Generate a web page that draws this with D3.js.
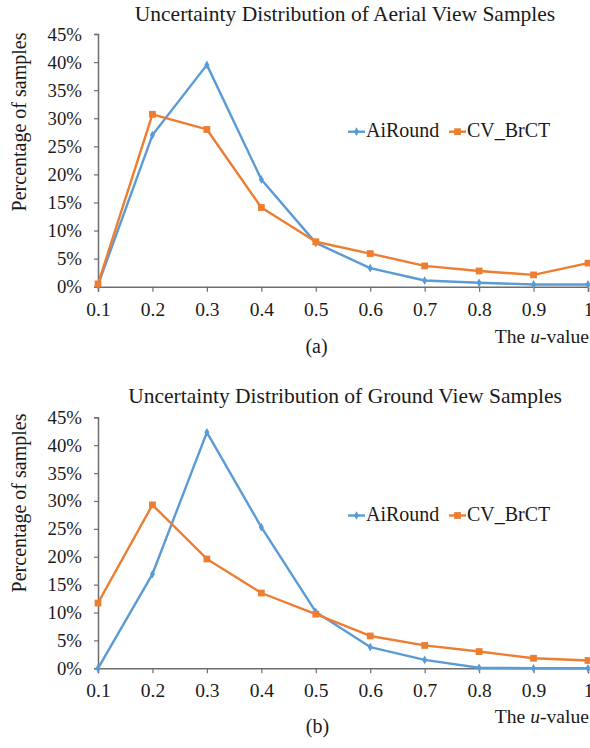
<!DOCTYPE html>
<html>
<head>
<meta charset="utf-8">
<script src="https://cdn.jsdelivr.net/npm/d3@7"></script>
<style>
  html, body { margin: 0; padding: 0; background: #fff; }
  svg { display: block; }
  svg text { font-family: "Liberation Serif", "Times New Roman", serif !important; }
</style>
</head>
<body>
<svg id="chart" width="590" height="748"></svg>
<script>
// u-value categories shared by both panels
const uValues = ["0.1", "0.2", "0.3", "0.4", "0.5", "0.6", "0.7", "0.8", "0.9", "1"];
const yTicks = [0, 0.05, 0.10, 0.15, 0.20, 0.25, 0.30, 0.35, 0.40, 0.45];
const seriesNames = ["AiRound", "CV_BrCT"];

// (a) aerial view samples, fraction of samples per u-value
const aerialAiRound = [0.003, 0.270, 0.395, 0.191, 0.078, 0.033, 0.011, 0.007, 0.004, 0.004];
const aerialCvBrct  = [0.005, 0.307, 0.280, 0.141, 0.080, 0.059, 0.037, 0.028, 0.021, 0.042];

// (b) ground view samples
const groundAiRound = [0.000, 0.169, 0.423, 0.253, 0.101, 0.038, 0.015, 0.001, 0.000, 0.000];
const groundCvBrct  = [0.117, 0.293, 0.196, 0.135, 0.097, 0.058, 0.041, 0.030, 0.018, 0.014];

const colors = { AiRound: "#5B9BD5", CV_BrCT: "#ED7D31" };
const axisColor = "#6e6e6e";
const textColor = "#1a1a1a";

const svg = d3.select("#chart");

function drawPanel(opt) {
  const g = svg.append("g");
  const x = d3.scalePoint().domain(uValues).range([opt.left, opt.right]).padding(0);
  const y = d3.scaleLinear().domain([0, 0.45]).range([opt.bottom, opt.top]);

  // title
  g.append("text")
    .attr("x", opt.titleX).attr("y", opt.titleY)
    .attr("text-anchor", "middle")
    .attr("font-size", 21.5).attr("fill", textColor)
    .text(opt.title);

  // y axis
  const yAxis = g.append("g")
    .attr("transform", `translate(${opt.left},0)`)
    .call(d3.axisLeft(y).tickValues(yTicks).tickFormat(d3.format(".0%")).tickSize(4).tickPadding(12));
  yAxis.attr("font-family", null);
  yAxis.select(".domain").attr("stroke", axisColor).attr("stroke-width", 1.5);
  yAxis.selectAll(".tick line").attr("stroke", axisColor).attr("stroke-width", 1.2);
  yAxis.selectAll(".tick text").attr("font-size", 18.8).attr("fill", textColor);

  // x axis
  const xAxis = g.append("g")
    .attr("transform", `translate(0,${opt.bottom})`)
    .call(d3.axisBottom(x).tickSize(5).tickPadding(10));
  xAxis.attr("font-family", null);
  xAxis.select(".domain").attr("stroke", axisColor).attr("stroke-width", 1.5);
  xAxis.selectAll(".tick line").attr("stroke", axisColor).attr("stroke-width", 1.2);
  xAxis.selectAll(".tick text").attr("font-size", 19.5).attr("fill", textColor);

  // y axis title
  g.append("text")
    .attr("transform", `translate(${opt.yTitleX},${opt.yTitleY}) rotate(-90)`)
    .attr("text-anchor", "middle")
    .attr("font-size", 20).attr("fill", textColor)
    .text("Percentage of samples");

  // x axis title
  const xt = g.append("text")
    .attr("x", opt.right + 1).attr("y", opt.xTitleY)
    .attr("text-anchor", "end")
    .attr("font-size", 19.6).attr("fill", textColor);
  xt.append("tspan").text("The ");
  xt.append("tspan").attr("font-style", "italic").text("u");
  xt.append("tspan").text("-value");

  // panel tag
  g.append("text")
    .attr("x", opt.tagX).attr("y", opt.tagY)
    .attr("text-anchor", "middle")
    .attr("font-size", 20).attr("fill", textColor)
    .text(opt.tag);

  const line = d3.line().x((d, i) => x(uValues[i])).y(d => y(d));

  const series = [
    { name: "AiRound", values: opt.ai },
    { name: "CV_BrCT", values: opt.cv }
  ];

  series.forEach(s => {
    g.append("path")
      .datum(s.values)
      .attr("fill", "none")
      .attr("stroke", colors[s.name])
      .attr("stroke-width", 2.4)
      .attr("stroke-linejoin", "round")
      .attr("d", line);
  });

  // markers: diamonds for AiRound, squares for CV_BrCT
  const diamond = d3.symbol().type(d3.symbolDiamond).size(22);
  const square = d3.symbol().type(d3.symbolSquare).size(46);
  series.forEach(s => {
    g.append("g").selectAll("path")
      .data(s.values)
      .join("path")
      .attr("transform", (d, i) => `translate(${x(uValues[i])},${y(d)})`)
      .attr("d", s.name === "AiRound" ? diamond : square)
      .attr("fill", colors[s.name]);
  });

  // legend
  const leg = g.append("g").attr("transform", `translate(0,${opt.legendY})`);
  const legX = [348, 449];
  seriesNames.forEach((name, i) => {
    const lx = legX[i];
    leg.append("line")
      .attr("x1", lx).attr("x2", lx + 17).attr("y1", 0).attr("y2", 0)
      .attr("stroke", colors[name]).attr("stroke-width", 2.4);
    leg.append("path")
      .attr("transform", `translate(${lx + 8.5},0)`)
      .attr("d", name === "AiRound" ? diamond : square)
      .attr("fill", colors[name]);
    leg.append("text")
      .attr("x", lx + 18).attr("y", 5.5)
      .attr("font-size", 20).attr("fill", textColor)
      .text(name);
  });
}

drawPanel({
  title: "Uncertainty Distribution of Aerial View Samples",
  tag: "(a)",
  ai: aerialAiRound, cv: aerialCvBrct,
  left: 98, right: 588, top: 34, bottom: 286.7,
  titleX: 345, titleY: 21,
  yTitleX: 26, yTitleY: 122,
  xTitleY: 343.3,
  tagX: 316.5, tagY: 353,
  legendY: 131.7
});

drawPanel({
  title: "Uncertainty Distribution of Ground View Samples",
  tag: "(b)",
  ai: groundAiRound, cv: groundCvBrct,
  left: 98, right: 588, top: 417.3, bottom: 668.3,
  titleX: 345, titleY: 402.7,
  yTitleX: 26, yTitleY: 503,
  xTitleY: 723.3,
  tagX: 317.5, tagY: 733,
  legendY: 515.5
});
</script>
</body>
</html>
